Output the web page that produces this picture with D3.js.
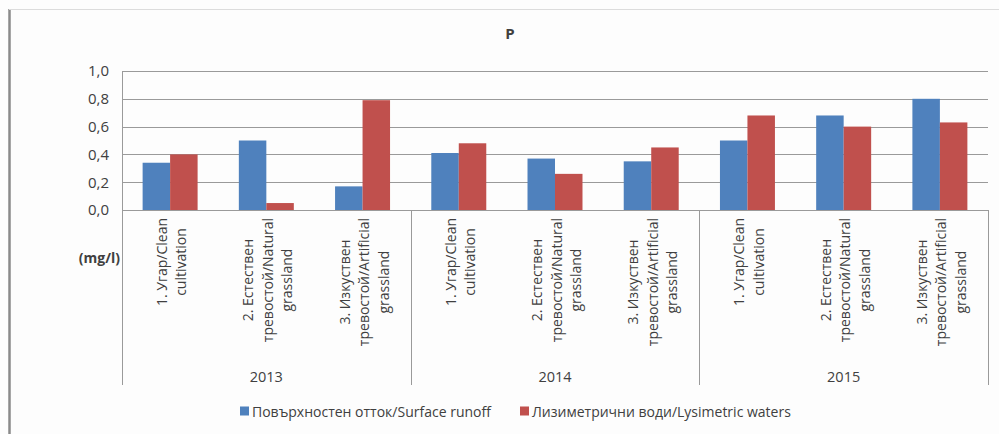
<!DOCTYPE html>
<html>
<head>
<meta charset="utf-8">
<script src="https://cdn.jsdelivr.net/npm/d3@7"></script>
<style>
  html, body { margin: 0; padding: 0; background: #fdfdfd; }
  svg { display: block; }
  text { font-family: "Open Sans", "Liberation Sans", sans-serif; fill: #404040; }
</style>
</head>
<body>
<svg id="chart" width="999" height="434"></svg>
<script>
// Phosphorus (P) concentration, mg/l, by land use and year
const years = ["2013", "2014", "2015"];
const landUse = [
  ["1. Угар/Clean", "cultivation"],
  ["2. Естествен", "тревостой/Natural", "grassland"],
  ["3. Изкуствен", "тревостой/Artificial", "grassland"]
];
const seriesNames = ["Повърхностен отток/Surface runoff", "Лизиметрични води/Lysimetric waters"];
const seriesColors = ["#4F81BD", "#C0504D"];
const surfaceRunoff = [0.34, 0.50, 0.17, 0.41, 0.37, 0.35, 0.50, 0.68, 0.80];
const lysimetricWaters = [0.40, 0.05, 0.79, 0.48, 0.26, 0.45, 0.68, 0.60, 0.63];
const yTicks = [0, 0.2, 0.4, 0.6, 0.8, 1.0];

const svg = d3.select("#chart");
const W = 999, H = 434;
const plot = { left: 122, right: 988, top: 71, bottom: 210 };
const catAxisBottom = 385;

// chart frame: darker left edge, light top edge
svg.append("line").attr("x1", 9.5).attr("x2", 9.5).attr("y1", 9).attr("y2", H)
  .attr("stroke", "#8a8a8a").attr("stroke-width", 2.5);
svg.append("line").attr("x1", 9).attr("x2", W).attr("y1", 9.5).attr("y2", 9.5)
  .attr("stroke", "#dcdcdc").attr("stroke-width", 1);

// one row per (year, land use)
const rows = [];
years.forEach((yr, yi) => landUse.forEach((lu, li) => {
  const i = yi * landUse.length + li;
  rows.push({ key: yr + "|" + li, year: yr, lines: lu, values: [surfaceRunoff[i], lysimetricWaters[i]] });
}));

const x = d3.scaleBand().domain(rows.map(d => d.key)).range([plot.left, plot.right]).padding(0);
const x1 = d3.scaleBand().domain([0, 1]).range([0, x.bandwidth()]).paddingInner(0).paddingOuter(0.75);
const y = d3.scaleLinear().domain([0, 1]).range([plot.bottom, plot.top]);

// horizontal gridlines
svg.append("g").selectAll("line").data(yTicks).join("line")
  .attr("x1", plot.left).attr("x2", plot.right)
  .attr("y1", d => Math.round(y(d)) + 0.5).attr("y2", d => Math.round(y(d)) + 0.5)
  .attr("stroke", "#9a9a9a").attr("stroke-width", 1);

// y axis labels
const fmt = d => d3.format(".1f")(d).replace(".", ",");
const yAxis = d3.axisLeft(y).tickValues(yTicks).tickFormat(fmt).tickSize(0).tickPadding(13);
const gy = svg.append("g").attr("transform", `translate(${plot.left},0)`).call(yAxis);
gy.select(".domain").remove();
gy.selectAll("text").attr("font-size", 15).attr("fill", "#404040")
  .style("font-family", "'Open Sans', sans-serif");

// y axis line and category group separators
const sepXs = [plot.left, x(rows[3].key), x(rows[6].key), plot.right];
svg.append("line").attr("x1", plot.left + 0.5).attr("x2", plot.left + 0.5)
  .attr("y1", plot.top).attr("y2", plot.bottom).attr("stroke", "#9a9a9a");
svg.append("g").selectAll("line").data(sepXs).join("line")
  .attr("x1", d => Math.round(d) + 0.5).attr("x2", d => Math.round(d) + 0.5)
  .attr("y1", plot.bottom).attr("y2", catAxisBottom)
  .attr("stroke", "#9a9a9a");

// bars
const groups = svg.append("g").selectAll("g").data(rows).join("g")
  .attr("transform", d => `translate(${x(d.key)},0)`);
groups.selectAll("rect").data(d => d.values.map((v, s) => ({ v, s }))).join("rect")
  .attr("x", d => x1(d.s))
  .attr("width", x1.bandwidth())
  .attr("y", d => y(d.v))
  .attr("height", d => y(0) - y(d.v))
  .attr("fill", d => seriesColors[d.s]);

// rotated category labels, each line centred within the label block
const lineGap = 19.5;
const labelTop = 218;
rows.forEach(r => {
  const cx = x(r.key) + x.bandwidth() / 2;
  const g = svg.append("g");
  const n = r.lines.length;
  const texts = r.lines.map((t, i) => g.append("text")
    .attr("font-size", 14)
    .attr("text-anchor", "middle")
    .attr("dominant-baseline", "central")
    .text(t));
  const maxLen = d3.max(texts, t => t.node().getComputedTextLength());
  const cy = labelTop + maxLen / 2;
  texts.forEach((t, i) => {
    const lx = cx + (i - (n - 1) / 2) * lineGap + 1;
    t.attr("transform", `translate(${lx},${cy}) rotate(-90)`);
  });
});

// year labels
svg.append("g").selectAll("text").data(years).join("text")
  .attr("x", (d, i) => (sepXs[i] + sepXs[i + 1]) / 2)
  .attr("y", 376)
  .attr("text-anchor", "middle")
  .attr("dominant-baseline", "central")
  .attr("font-size", 14.5)
  .text(d => d);

// unit label
svg.append("text").attr("x", 120).attr("y", 257)
  .attr("text-anchor", "end").attr("dominant-baseline", "central")
  .attr("font-size", 14).attr("font-weight", "bold").attr("fill", "#1a1a1a")
  .text("(mg/l)");

// title
svg.append("text").attr("x", 510).attr("y", 33)
  .attr("text-anchor", "middle").attr("dominant-baseline", "central")
  .attr("font-size", 15).attr("font-weight", "bold").attr("fill", "#1a1a1a")
  .text("P");

// legend
const legendX = [240, 520];
const lg = svg.append("g").selectAll("g").data(seriesNames).join("g")
  .attr("transform", (d, i) => `translate(${legendX[i]},411)`);
lg.append("rect").attr("x", 0).attr("y", -4.5).attr("width", 9).attr("height", 9)
  .attr("fill", (d, i) => seriesColors[i]);
lg.append("text").attr("x", 12).attr("y", 0).attr("dominant-baseline", "central")
  .attr("font-size", 14).text(d => d);
</script>
</body>
</html>
